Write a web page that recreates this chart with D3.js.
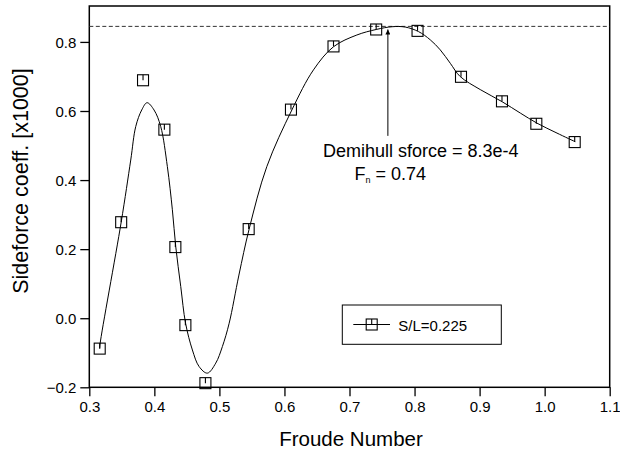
<!DOCTYPE html>
<html><head><meta charset="utf-8">
<script src="https://cdn.jsdelivr.net/npm/d3@7"></script>
<style>
html,body{margin:0;padding:0;background:#fff;}
svg{display:block;font-family:"Liberation Sans",Arial,Helvetica,sans-serif;}
</style></head>
<body><svg id="c" width="620" height="459"></svg>
<script>
// measured points (Froude number, sideforce coeff x1000)
const froude = [0.316,0.349,0.3826,0.4154,0.4323,0.4477,0.4785,0.545,0.610,0.6754,0.741,0.8046,0.8714,0.9344,0.9872,1.0462];
const sideforce = [-0.088,0.278,0.689,0.546,0.206,-0.020,-0.188,0.258,0.604,0.787,0.836,0.832,0.699,0.628,0.563,0.510];
const errUp = [0.016,0.016,0.016,0.016,0.016,0.016,0.016,0.016,0.016,0.016,0.016,0.016,0.016,0.016,0.016,0.016];
// fitted curve
const fitX = [0.316,0.3165,0.349,0.3637,0.3714,0.3806,0.3888,0.3995,0.4098,0.420,0.4277,0.4329,0.4406,0.448,0.4585,0.4688,0.4815,0.4944,0.5046,0.515,0.530,0.5457,0.5729,0.6114,0.6446,0.6754,0.7113,0.741,0.7655,0.7857,0.806,0.8242,0.8395,0.855,0.870,0.901,0.9345,0.9626,0.988,1.019,1.047];
const fitY = [-0.088,-0.075,0.278,0.458,0.555,0.603,0.624,0.603,0.555,0.439,0.314,0.207,0.0915,-0.0145,-0.092,-0.140,-0.159,-0.130,-0.082,-0.0145,0.125,0.258,0.439,0.603,0.719,0.786,0.820,0.836,0.844,0.843,0.830,0.806,0.777,0.738,0.700,0.662,0.627,0.594,0.565,0.536,0.511];
const xTicks = [0.3,0.4,0.5,0.6,0.7,0.8,0.9,1.0,1.1];
const yTicks = [-0.2,0.0,0.2,0.4,0.6,0.8];
const refLevel = 0.845;
const peakFn = 0.759;
const arrowFrom = 0.528, arrowTo = 0.836;
const note1 = "Demihull sforce = 8.3e-4";
const legendLabel = "S/L=0.225";
const xTitle = "Froude Number";
const yTitle = "Sideforce coeff. [x1000]";

const svg = d3.select("#c");
const L=89.3, R=609.7, T=6, B=387.3;
const x = d3.scaleLinear().domain([0.3,1.1]).range([L,R]);
const y = d3.scaleLinear().domain([-0.2,0.904]).range([B,T]);

// axes
const xa = svg.append("g").attr("transform",`translate(0,${B})`)
  .call(d3.axisBottom(x).tickValues(xTicks).tickFormat(d3.format(".1f")).tickSizeOuter(0).tickSize(9).tickPadding(5));
const ya = svg.append("g").attr("transform",`translate(${L},0)`)
  .call(d3.axisLeft(y).tickValues(yTicks).tickFormat(d3.format(".1f")).tickSizeOuter(0).tickSize(9).tickPadding(4));
[xa,ya].forEach(g=>{
  g.select(".domain").remove();
  g.selectAll("line").attr("stroke","#000").attr("stroke-width",1.3);
  g.selectAll("text").attr("fill","#000").style("font-size","15px").style("font-family","'Liberation Sans',Arial,sans-serif");
});
ya.selectAll("text").attr("dy","0.35em");

// frame
svg.append("rect").attr("x",L).attr("y",T).attr("width",R-L).attr("height",B-T)
  .attr("fill","none").attr("stroke","#000").attr("stroke-width",1.5);

// reference dashed line
svg.append("line").attr("x1",L).attr("x2",R).attr("y1",y(refLevel)).attr("y2",y(refLevel))
  .attr("stroke","#333").attr("stroke-width",1).attr("stroke-dasharray","4,2.5");

// fitted curve
const fit = fitX.map((v,i)=>[v,fitY[i]]);
svg.append("path").datum(fit)
  .attr("d",d3.line().x(d=>x(d[0])).y(d=>y(d[1])).curve(d3.curveCatmullRom.alpha(0.5)))
  .attr("fill","none").attr("stroke","#000").attr("stroke-width",1);

// markers with error ticks
const pts = froude.map((v,i)=>({x:v,y:sideforce[i],e:errUp[i]}));
const s=11;
const mg = svg.append("g");
mg.selectAll("rect").data(pts).join("rect")
  .attr("x",d=>x(d.x)-s/2).attr("y",d=>y(d.y)-s/2).attr("width",s).attr("height",s)
  .attr("fill","none").attr("stroke","#000").attr("stroke-width",1.1);
mg.selectAll("line").data(pts).join("line")
  .attr("x1",d=>x(d.x)).attr("x2",d=>x(d.x)).attr("y1",d=>y(d.y)).attr("y2",d=>y(d.y+d.e))
  .attr("stroke","#000").attr("stroke-width",1.1);

// arrow annotation
svg.append("defs").append("marker").attr("id","ah").attr("viewBox","0 0 10 10")
  .attr("refX",10).attr("refY",5).attr("markerWidth",9).attr("markerHeight",5)
  .attr("markerUnits","userSpaceOnUse").attr("orient","auto")
  .append("path").attr("d","M0,0 L10,5 L0,10 Z").attr("fill","#000");
svg.append("line").attr("x1",x(peakFn)).attr("x2",x(peakFn)).attr("y1",y(arrowFrom)).attr("y2",y(arrowTo))
  .attr("stroke","#000").attr("stroke-width",1).attr("marker-end","url(#ah)");
svg.append("text").attr("x",x(0.8095)).attr("y",y(0.4676)).attr("text-anchor","middle")
  .style("font-size","18px").attr("fill","#000").text(note1);
const t2 = svg.append("text").attr("x",x(0.7077)).attr("y",y(0.400)).style("font-size","18px").attr("fill","#000");
t2.append("tspan").text("F");
t2.append("tspan").attr("dy","3").style("font-size","9px").text("n");
t2.append("tspan").attr("dy","-3").text(" = 0.74");

// legend
const lg = svg.append("g");
lg.append("rect").attr("x",342.3).attr("y",305).attr("width",159).attr("height",39.3)
  .attr("fill","#fff").attr("stroke","#000").attr("stroke-width",1);
lg.append("line").attr("x1",353.3).attr("x2",390).attr("y1",324.5).attr("y2",324.5).attr("stroke","#000").attr("stroke-width",1);
lg.append("rect").attr("x",371.7-s/2).attr("y",324.5-s/2).attr("width",s).attr("height",s)
  .attr("fill","none").attr("stroke","#000").attr("stroke-width",1.1);
lg.append("line").attr("x1",371.7).attr("x2",371.7).attr("y1",324.5).attr("y2",324.5-s/2).attr("stroke","#000").attr("stroke-width",1.1);
lg.append("text").attr("x",398.3).attr("y",330.5).style("font-size","15px").attr("fill","#000").text(legendLabel);

// titles
svg.append("text").attr("x",351).attr("y",446).attr("text-anchor","middle")
  .style("font-size","20.5px").attr("fill","#000").text(xTitle);
svg.append("text").attr("transform","translate(28,181) rotate(-90)").attr("text-anchor","middle")
  .style("font-size","21.5px").attr("fill","#000").text(yTitle);
</script></body></html>
